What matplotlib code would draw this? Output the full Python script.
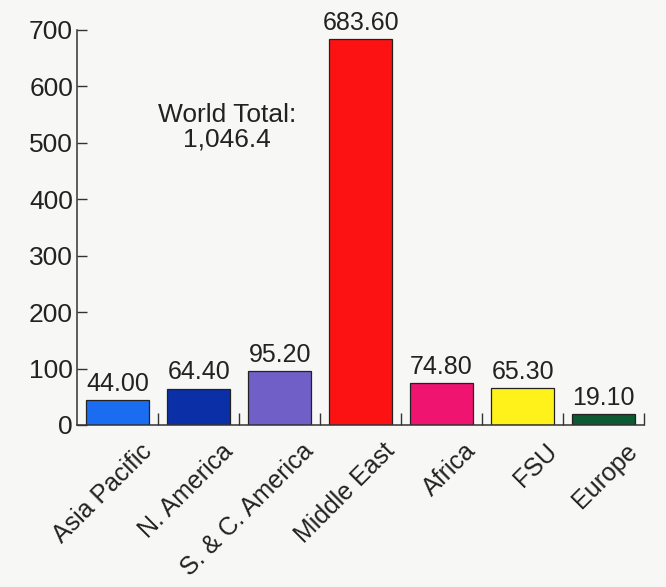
import matplotlib
matplotlib.use("Agg")
import matplotlib.pyplot as plt
import matplotlib.transforms as mtransforms

regions = ["Asia Pacific", "N. America", "S. & C. America", "Middle East",
           "Africa", "FSU", "Europe"]
reserves = [44.00, 64.40, 95.20, 683.60, 74.80, 65.30, 19.10]
colors = ["#1a6cf0", "#0b2fa6", "#6f5fc6", "#fc1212", "#ee1470", "#fff21a", "#0b5a32"]
y_ticks = [0, 100, 200, 300, 400, 500, 600, 700]

plt.rcParams["font.family"] = ["Liberation Sans", "DejaVu Sans"]

fig = plt.figure(figsize=(6.66, 5.87), dpi=100, facecolor="#f7f7f5")
ax = fig.add_axes([0.116, 0.276, 0.851, 0.673])
ax.set_facecolor("#f7f7f5")

xs = list(range(len(regions)))
bars = ax.bar(xs, reserves, width=0.78, color=colors, edgecolor="#222222", linewidth=0.9)

for x, v in zip(xs, reserves):
    ax.annotate(f"{v:.2f}", (x, v), xytext=(0, 3), textcoords="offset points",
                ha="center", va="bottom", fontsize=18, color="#222222")

ax.text(1.35, 528, "World Total:\n1,046.4", ha="center", va="center",
        fontsize=19, color="#222222", linespacing=1.05)

ax.set_xlim(-0.5, 6.5)
ax.set_ylim(0, 700)
ax.set_yticks(y_ticks)
ax.tick_params(axis="y", direction="in", length=7, width=1, colors="#333333",
               labelsize=19, labelcolor="#222222", pad=3)

# boundary ticks between bars, labels at bar centres
ax.set_xticks([i + 0.5 for i in xs])
ax.set_xticklabels([])
ax.set_xticks(xs, minor=True)
ax.set_xticklabels(regions, minor=True, rotation=45, ha="right",
                   rotation_mode="anchor", fontsize=18, color="#222222")
ax.tick_params(axis="x", which="major", direction="in", length=9, width=1, colors="#333333")
ax.tick_params(axis="x", which="minor", length=0, pad=10)
offset = mtransforms.ScaledTranslation(22 / 100, 0, fig.dpi_scale_trans)
for lbl in ax.get_xticklabels(minor=True):
    lbl.set_transform(lbl.get_transform() + offset)

for side in ["top", "right"]:
    ax.spines[side].set_visible(False)
for side in ["left", "bottom"]:
    ax.spines[side].set_color("#333333")
    ax.spines[side].set_linewidth(1.1)

fig.savefig("out.png", dpi=100, facecolor=fig.get_facecolor())
